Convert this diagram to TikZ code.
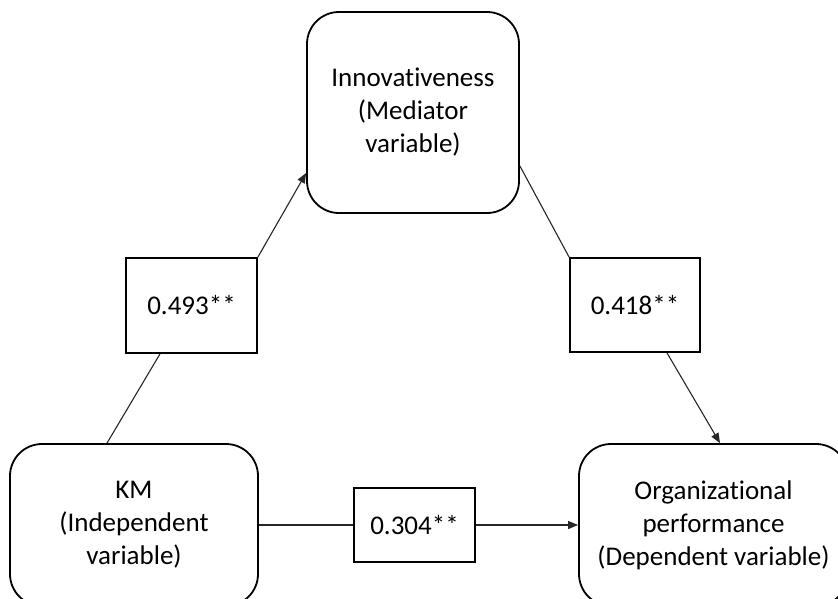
\documentclass[tikz,border=0pt]{standalone}
\usepackage{fontspec}
\setmainfont[Ligatures={NoCommon}]{Carlito}
\usepackage{tikz}
\usetikzlibrary{arrows.meta}

\begin{document}
\begin{tikzpicture}[x=1pt,y=-1pt,>={Triangle[length=10pt,width=8pt]},
    font=\fontsize{27}{33}\selectfont]

    \tikzset{
      varbox/.style={draw,line width=1.8pt,rounded corners=32pt,align=center,inner sep=0pt},
      coefbox/.style={draw,line width=1.8pt,align=center,inner sep=0pt},
      lien/.style={line width=1.1pt,black!85}
    }

    % Cadre de l'image
    \useasboundingbox (0,0) rectangle (838,598);

    % Les trois variables
    \node[varbox,minimum width=212pt,minimum height=201pt] (inno) at (413,112.5) {Innovativeness\\(Mediator\\variable)};
    \node[varbox,minimum width=248pt,minimum height=162pt] (km) at (134,525) {KM\\(Independent\\variable)};
    \node[varbox,minimum width=269pt,minimum height=162pt] (org) at (713.5,525) {Organizational\\performance\\(Dependent variable)};

    % Les coefficients
    \node[coefbox,minimum width=131pt,minimum height=95pt] (c1) at (191.5,305.5) {0.493**};
    \node[coefbox,minimum width=130pt,minimum height=94pt] (c2) at (635,305) {0.418**};
    \node[coefbox,minimum width=121pt,minimum height=74pt] (c3) at (414.5,525) {0.304**};

    % Les liens entre les boites
    \draw[lien] ([xshift=-27pt]km.north) -- ([xshift=-31.5pt]c1.south);
    \draw[lien,->] (c1.north east) -- ([yshift=-60.5pt]inno.west);
    \draw[lien] ([yshift=-53.5pt]inno.east) -- (c2.north west);
    \draw[lien,->] ([xshift=32pt]c2.south) -- ([xshift=6.5pt]org.north);
    \draw[lien] (c3.west -| km.east) -- (c3.west);
    \draw[lien,->] (c3.east) -- (c3.east -| org.west);
\end{tikzpicture}
\end{document}
